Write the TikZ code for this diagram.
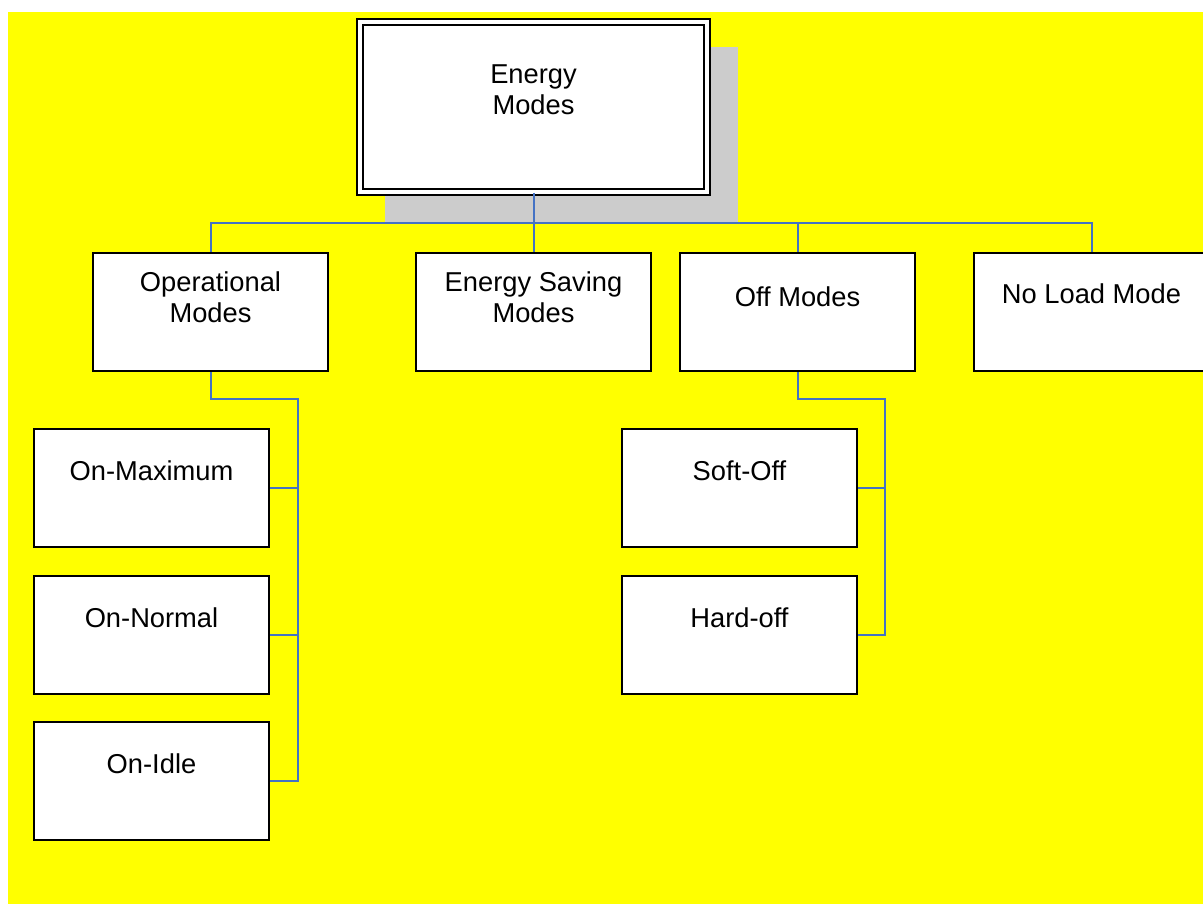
\documentclass[tikz,border=0pt]{standalone}
\usepackage{fontspec}
\setmainfont{Liberation Sans}
\definecolor{connblue}{RGB}{68,114,196}
\definecolor{shadowgray}{RGB}{204,204,204}
\definecolor{bgyellow}{RGB}{255,255,0}
\begin{document}
\begin{tikzpicture}[x=1pt,y=-1pt,
  box/.style={draw=black,line width=2pt,fill=white,minimum width=235pt,minimum height=118pt,inner sep=0pt,anchor=north west},
  topbox/.style={draw=black,line width=2pt,double=white,double distance=4pt,fill=white,minimum width=347pt,minimum height=170pt,inner sep=0pt,anchor=north west},
  lab/.style={font=\fontsize{27.3}{31}\selectfont,align=center,inner sep=0pt},
  conn/.style={draw=connblue,line width=2pt}]
\useasboundingbox (0,0) rectangle (1203,904);
\clip (0,0) rectangle (1203,904);
\fill[bgyellow] (8,12) rectangle (1203,904);
% shadow of top box
\fill[shadowgray] (385,47) rectangle (738,223);
\coordinate (hb) at (532,223);
% level-1 boxes
\node[box] (op) at (92,252) {};
\node[box] (es) at (415,252) {};
\node[box] (off) at (679,252) {};
\node[box] (nl) at (973,252) {};
\node[topbox] (top) at (359,21) {};
\draw[conn] (op.north) -- (op.north |- hb) -- (nl.north |- hb) -- (nl.north);
\draw[conn] (top.south) -- (es.north);
\draw[conn] (off.north) -- (off.north |- hb);
% sub boxes
\node[box] (omax) at (33,428) {};
\node[box] (onorm) at (33,575) {};
\node[box] (oidle) at (33,721) {};
\node[box] (soft) at (621,428) {};
\node[box] (hard) at (621,575) {};
\coordinate (ta) at (298,399);
\coordinate (tb) at (885,399);
\draw[conn] (op.south) |- (ta) -- (ta |- oidle.east) -- (oidle.east);
\draw[conn] (omax.east) -- (ta |- omax.east);
\draw[conn] (onorm.east) -- (ta |- onorm.east);
\draw[conn] (off.south) |- (tb) -- (tb |- hard.east) -- (hard.east);
\draw[conn] (soft.east) -- (tb |- soft.east);
% labels
\node[lab] (ltop) at ([yshift=17pt]top.center) {Energy\\Modes};
\node[lab] (lop) at ([yshift=15pt]op.center) {Operational\\Modes};
\node[lab] (les) at ([yshift=15pt]es.center) {Energy Saving\\Modes};
\node[lab] (loff) at ([yshift=15pt]off.center) {Off Modes};
\node[lab] (lnl) at ([yshift=18pt]nl.center) {No Load Mode};
\node[lab] (lomax) at ([yshift=17pt]omax.center) {On-Maximum};
\node[lab] (lonorm) at ([yshift=17pt]onorm.center) {On-Normal};
\node[lab] (loidle) at ([yshift=17pt]oidle.center) {On-Idle};
\node[lab] (lsoft) at ([yshift=17pt]soft.center) {Soft-Off};
\node[lab] (lhard) at ([yshift=17pt]hard.center) {Hard-off};
\end{tikzpicture}
\end{document}
